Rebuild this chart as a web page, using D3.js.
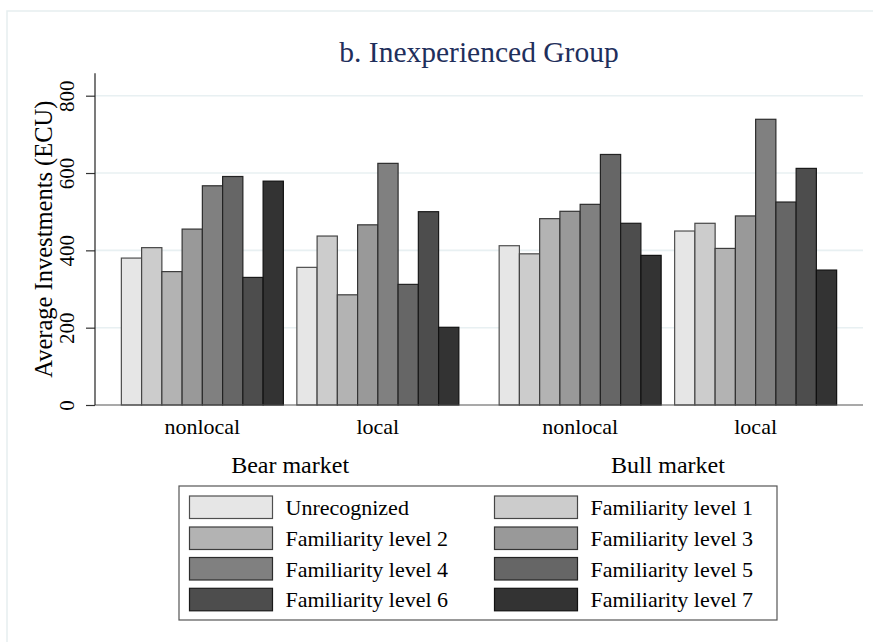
<!DOCTYPE html>
<html>
<head>
<meta charset="utf-8">
<script src="https://cdn.jsdelivr.net/npm/d3@7"></script>
<style>
  html, body { margin: 0; padding: 0; background: #fff; }
  svg text { font-family: "Liberation Serif", "Times New Roman", serif; }
</style>
</head>
<body>
<svg id="chart" width="873" height="642"></svg>
<script>
// ---- data ----
const categories = ["Unrecognized", "Familiarity level 1", "Familiarity level 2", "Familiarity level 3",
                    "Familiarity level 4", "Familiarity level 5", "Familiarity level 6", "Familiarity level 7"];
const markets = ["Bear market", "Bull market"];
const locations = ["nonlocal", "local"];
const bearNonlocal = [380, 407, 345, 455, 567, 591, 330, 579];
const bearLocal    = [356, 437, 285, 466, 625, 312, 500, 201];
const bullNonlocal = [412, 391, 482, 501, 519, 648, 470, 387];
const bullLocal    = [450, 470, 405, 489, 739, 525, 612, 349];
const yTicks = [0, 200, 400, 600, 800];
const titleText = "b. Inexperienced Group";
const yTitle = "Average Investments (ECU)";

const fills = ["#e6e6e6", "#cccccc", "#b3b3b3", "#999999", "#808080", "#666666", "#4d4d4d", "#333333"];

const seriesTable = {
  "Bear market": { "nonlocal": bearNonlocal, "local": bearLocal },
  "Bull market": { "nonlocal": bullNonlocal, "local": bullLocal }
};

const svg = d3.select("#chart");

// outer frame
svg.append("rect").attr("x", 7).attr("y", 11).attr("width", 900).attr("height", 700)
  .attr("fill", "none").attr("stroke", "#e6eeef").attr("stroke-width", 1.5);

// scales
const plotL = 95, plotR = 863;
const y = d3.scaleLinear().domain([0, 800]).range([405, 95.7]);
const xOuter = d3.scaleBand().domain(markets).range([plotL, plotR]).paddingInner(0.1067).paddingOuter(0.0698);
const xInner = d3.scaleBand().domain(locations).range([0, xOuter.bandwidth()]).paddingInner(0.0769).paddingOuter(0);
const xCat = d3.scaleBand().domain(categories).range([0, xInner.bandwidth()]).padding(0);
const color = d3.scaleOrdinal().domain(categories).range(fills);

// gridlines
svg.append("g").selectAll("line").data(yTicks.filter(d => d > 0)).join("line")
  .attr("x1", plotL).attr("x2", plotR)
  .attr("y1", d => y(d)).attr("y2", d => y(d))
  .attr("stroke", "#e8f0f2").attr("stroke-width", 1.6);

// bars
const bars = [];
markets.forEach(m => locations.forEach(l => categories.forEach((c, i) => {
  bars.push({ m, l, c, v: seriesTable[m][l][i] });
})));
svg.append("g").selectAll("rect").data(bars).join("rect")
  .attr("x", d => xOuter(d.m) + xInner(d.l) + xCat(d.c))
  .attr("width", xCat.bandwidth())
  .attr("y", d => y(d.v))
  .attr("height", d => y(0) - y(d.v))
  .attr("fill", d => color(d.c))
  .attr("stroke", d => d3.color(color(d.c)).darker(3))
  .attr("stroke-width", 1.2);

// x baseline
svg.append("line").attr("x1", plotL).attr("x2", plotR).attr("y1", y(0)).attr("y2", y(0))
  .attr("stroke", "#555").attr("stroke-width", 1.2);

// y axis
const yAxis = d3.axisLeft(y).tickValues(yTicks).tickSize(9).tickPadding(0).tickFormat(d3.format("d"));
const ga = svg.append("g").attr("transform", `translate(${plotL},0)`).call(yAxis);
ga.select(".domain").remove();
ga.append("line").attr("x1", 0).attr("x2", 0).attr("y1", y(858)).attr("y2", y(0))
  .attr("stroke", "#222").attr("stroke-width", 1.2);
ga.selectAll(".tick line").attr("stroke", "#333").attr("stroke-width", 1.2);
ga.selectAll(".tick text")
  .attr("x", null).attr("dy", null)
  .attr("transform", "translate(-21,0) rotate(-90)")
  .attr("text-anchor", "middle")
  .attr("fill", "#000")
  .style("font-size", "21px")
  .style("font-family", "'Liberation Serif', serif");

// y title
svg.append("text").attr("transform", `translate(52,${(y(0) + y(858)) / 2}) rotate(-90)`)
  .attr("text-anchor", "middle").style("font-size", "24.5px").attr("fill", "#000").text(yTitle);

// title
svg.append("text").attr("x", (plotL + plotR) / 2).attr("y", 62).attr("text-anchor", "middle")
  .style("font-size", "29.5px").attr("fill", "#1f2f5c").text(titleText);

// location labels
const locLabels = [];
markets.forEach(m => locations.forEach(l => locLabels.push({ m, l })));
svg.append("g").selectAll("text").data(locLabels).join("text")
  .attr("x", d => xOuter(d.m) + xInner(d.l) + xInner.bandwidth() / 2)
  .attr("y", 434).attr("text-anchor", "middle").style("font-size", "22px").attr("fill", "#000")
  .text(d => d.l);

// market labels
svg.append("g").selectAll("text").data(markets).join("text")
  .attr("x", d => xOuter(d) + xOuter.bandwidth() / 2)
  .attr("y", 473).attr("text-anchor", "middle").style("font-size", "24px").attr("fill", "#000")
  .text(d => d);

// legend
const lg = svg.append("g");
lg.append("rect").attr("x", 179).attr("y", 486).attr("width", 598).attr("height", 134)
  .attr("fill", "#fff").attr("stroke", "#555").attr("stroke-width", 1.2);
const colX = [189.5, 494.5];
const rowY = [496, 527, 557.5, 588.3];
const items = lg.selectAll("g.item").data(categories).join("g").attr("class", "item")
  .attr("transform", (d, i) => `translate(${colX[i % 2]},${rowY[Math.floor(i / 2)]})`);
items.append("rect").attr("width", 83).attr("height", 22.5)
  .attr("fill", d => color(d)).attr("stroke", d => d3.color(color(d)).darker(3)).attr("stroke-width", 1.2);
items.append("text").attr("x", 96).attr("y", 19).style("font-size", "22px").attr("fill", "#000").text(d => d);
</script>
</body>
</html>
